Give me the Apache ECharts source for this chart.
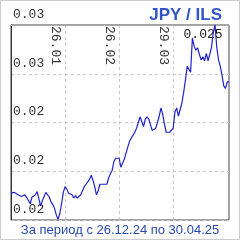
<!DOCTYPE html>
<html>
<head>
<meta charset="utf-8">
<script src="https://cdn.jsdelivr.net/npm/echarts@6/dist/echarts.min.js"></script>
<style>
html, body { margin: 0; padding: 0; background: #fff; }
#chart { width: 240px; height: 240px; }
</style>
</head>
<body>
<div id="chart"></div>
<script>
// daily JPY/ILS rate, 26.12.24 .. 30.04.25
var startDate = [2024, 11, 26];
var endDate = [2025, 3, 30];
var tickLabels = ['26.01', '26.02', '29.03'];
var rates = [
  0.02373, 0.02375, 0.02374, 0.02375, 0.02371, 0.02373, 0.02369, 0.02371, 0.02371, 0.02369,
  0.02364, 0.02360, 0.02368, 0.02370, 0.02371, 0.02375, 0.02376, 0.02357, 0.02364, 0.02369,
  0.02374, 0.02376, 0.02368, 0.02362, 0.02359, 0.02354, 0.02346, 0.02341, 0.02348, 0.02360,
  0.02374, 0.02381, 0.02378, 0.02373, 0.02371, 0.02371, 0.02367, 0.02370, 0.02367, 0.02365,
  0.02371, 0.02373, 0.02381, 0.02384, 0.02385, 0.02390, 0.02395, 0.02389, 0.02381, 0.02371,
  0.02376, 0.02384, 0.02384, 0.02384, 0.02384, 0.02384, 0.02392, 0.02397, 0.02401, 0.02412,
  0.02416, 0.02416, 0.02416, 0.02405, 0.02406, 0.02415, 0.02416, 0.02430, 0.02437, 0.02441,
  0.02443, 0.02448, 0.02453, 0.02460, 0.02467, 0.02465, 0.02455, 0.02464, 0.02467, 0.02464,
  0.02457, 0.02450, 0.02448, 0.02453, 0.02460, 0.02468, 0.02478, 0.02470, 0.02458, 0.02448,
  0.02448, 0.02448, 0.02448, 0.02453, 0.02473, 0.02478, 0.02468, 0.02467, 0.02484, 0.02497,
  0.02512, 0.02529, 0.02527, 0.02522, 0.02564, 0.02554, 0.02549, 0.02552, 0.02544, 0.02537,
  0.02541, 0.02536, 0.02545, 0.02536, 0.02544, 0.02553, 0.02571, 0.02580, 0.02552, 0.02537,
  0.02529, 0.02518, 0.02505, 0.02502, 0.02510, 0.02510
];
var yMin = 0.0234, yMax = 0.0258, yStep = 0.0006;

function pad(n) { return n < 10 ? '0' + n : '' + n; }
var days = [];
var d = new Date(startDate[0], startDate[1], startDate[2]);
var last = new Date(endDate[0], endDate[1], endDate[2]);
while (d <= last) {
    days.push(pad(d.getDate()) + '.' + pad(d.getMonth() + 1));
    d.setDate(d.getDate() + 1);
}
function isTick(i, v) { return tickLabels.indexOf(days[i]) >= 0; }

var monoFont = 'Liberation Mono';
var chart = echarts.init(document.getElementById('chart'), null, { renderer: 'canvas' });
var option = {
    animation: false,
    title: {
        text: 'JPY / ILS',
        right: 13,
        top: 2,
        textStyle: { color: '#3355cc', fontSize: 17, fontWeight: 'bold', fontFamily: 'Liberation Sans' }
    },
    graphic: [
        { type: 'rect', shape: { x: 0.5, y: 0.5, width: 239, height: 239 }, style: { fill: 'none', stroke: '#cccccc', lineWidth: 1 }, silent: true },
        { type: 'text', left: 'center', top: 224, style: { text: 'За период с 26.12.24 по 30.04.25', fill: '#2a4ab0', font: '13px "Liberation Sans"' } }
    ],
    grid: {
        left: 11, right: 11, top: 25, bottom: 20,
        outerBoundsMode: 'none',
        containLabel: false,
        show: true, borderColor: '#444', borderWidth: 1, backgroundColor: '#fff'
    },
    xAxis: {
        type: 'category',
        data: days,
        boundaryGap: false,
        position: 'top',
        axisLine: { show: true, lineStyle: { color: '#aaaaaa' } },
        axisTick: { show: false },
        axisLabel: {
            inside: true,
            rotate: 90,
            interval: isTick,
            align: 'left',
            verticalAlign: 'top',
            margin: 1,
            padding: [3, 0, 0, 0],
            color: '#333',
            fontSize: 13,
            fontFamily: monoFont
        },
        splitLine: { show: true, interval: isTick, lineStyle: { color: '#c8c8c8', type: [3, 3] } }
    },
    yAxis: {
        type: 'value',
        min: yMin,
        max: yMax,
        interval: yStep,
        axisLine: { show: true, lineStyle: { color: '#333' } },
        axisTick: { show: false },
        axisLabel: {
            inside: true,
            margin: 2,
            verticalAlign: 'bottom',
            padding: [0, 0, 4, 0],
            color: '#333',
            fontSize: 13,
            fontFamily: monoFont,
            formatter: function (v) { return v.toFixed(2); }
        },
        splitLine: { show: true, lineStyle: { color: '#c8c8c8', type: [3, 3] } }
    },
    series: [{
        type: 'line',
        data: rates,
        symbol: 'none',
        lineStyle: { color: '#2222cc', width: 1.2 },
        markPoint: {
            symbol: 'circle',
            symbolSize: 1,
            itemStyle: { color: 'rgba(0,0,0,0)' },
            data: [{ type: 'max' }],
            label: {
                show: true,
                position: 'inside',
                offset: [-12, 10],
                color: '#222',
                fontSize: 13,
                fontFamily: monoFont,
                formatter: function (p) { return (Math.floor(p.value * 1000) / 1000).toFixed(3); }
            }
        }
    }]
};
chart.setOption(option);
</script>
</body>
</html>
